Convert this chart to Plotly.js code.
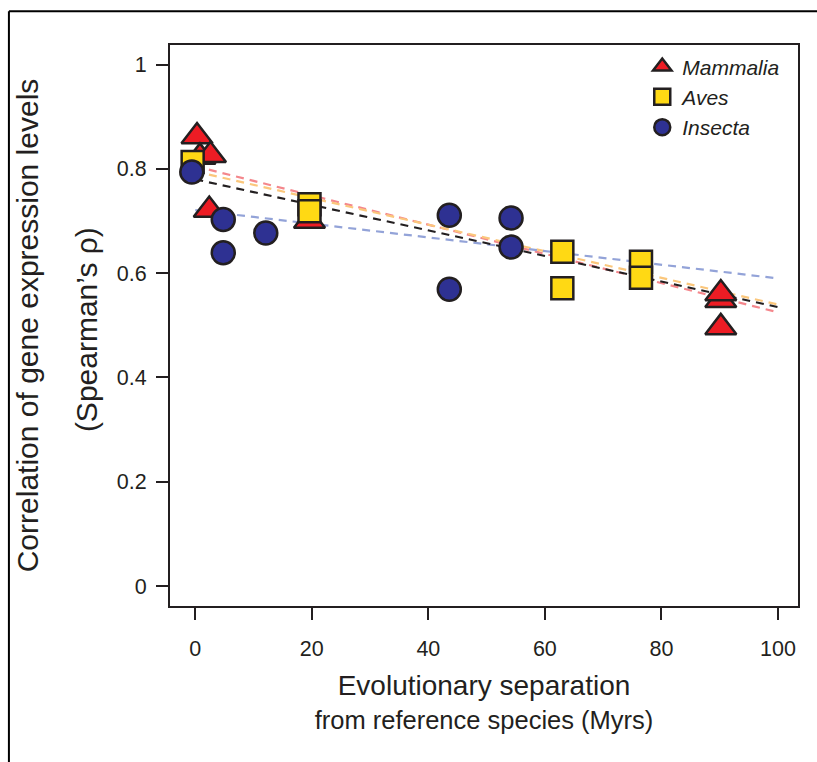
<!DOCTYPE html>
<html>
<head>
<meta charset="utf-8">
<script src="https://cdn.plot.ly/plotly-3.0.1.min.js"></script>
<style>
  html, body { margin: 0; padding: 0; background: #ffffff; }
  #chart { width: 817px; height: 762px; }
</style>
</head>
<body>
<div id="chart"></div>
<script>
// ---- Data ----
var seriesNames = ["Mammalia", "Aves", "Insecta"];

var mammaliaX = [0.3, 0.8, 2.6, 2.4, 19.6, 90.2, 90.2, 90.2];
var mammaliaY = [0.862, 0.823, 0.826, 0.721, 0.700, 0.548, 0.561, 0.496];

var avesX = [-0.45, 19.6, 19.6, 63.0, 63.0, 76.5, 76.5];
var avesY = [0.813, 0.732, 0.719, 0.641, 0.571, 0.622, 0.591];

var insectaX = [-0.6, 4.8, 4.8, 12.1, 43.6, 43.6, 54.2, 54.2];
var insectaY = [0.794, 0.703, 0.639, 0.677, 0.711, 0.569, 0.706, 0.650];

// Regression (trend) lines, read at both ends
var fitX = [0, 100];
var fitMammaliaY = [0.805, 0.525];
var fitAvesY = [0.795, 0.540];
var fitInsectaY = [0.721, 0.590];
var fitAllY = [0.780, 0.535];

var xTicks = [0, 20, 40, 60, 80, 100];
var yTicks = [0, 0.2, 0.4, 0.6, 0.8, 1];
var yTickText = ["0", "0.2", "0.4", "0.6", "0.8", "1"];

var xTitleLine1 = "Evolutionary separation";
var xTitleLine2 = "from reference species (Myrs)";
var yTitleLine1 = "Correlation of gene expression levels";
var yTitleLine2 = "(Spearman\u2019s \u03c1)";

// ---- Styling ----
var outline = "#231F20";
var font = "Liberation Sans, Arial, Helvetica, sans-serif";

function fitTrace(y, color) {
  return {
    x: fitX, y: y, type: "scatter", mode: "lines",
    line: { color: color, width: 2.2, dash: "8px,6px" },
    showlegend: false, hoverinfo: "skip"
  };
}

function ptTrace(name, x, y, symbol, color, size) {
  return {
    x: x, y: y, type: "scatter", mode: "markers", name: name,
    marker: { symbol: symbol, size: size, color: color,
              line: { color: outline, width: 2.5 } }
  };
}

var traces = [
  fitTrace(fitMammaliaY, "#F4878C"),
  fitTrace(fitAvesY, "#FBC77C"),
  fitTrace(fitInsectaY, "#93A3D8"),
  fitTrace(fitAllY, "#231F20"),
  ptTrace(seriesNames[0], mammaliaX, mammaliaY, "triangle-up", "#ED1C24", 27),
  ptTrace(seriesNames[1], avesX, avesY, "square", "#FFD914", 22),
  ptTrace(seriesNames[2], insectaX, insectaY, "circle", "#2E3192", 23)
];

var layout = {
  width: 817, height: 762,
  margin: { l: 170, r: 19.3, t: 44.7, b: 156, pad: 0 },
  paper_bgcolor: "#ffffff", plot_bgcolor: "#ffffff",
  font: { family: font, color: outline, size: 21 },
  xaxis: {
    range: [-4.34, 103.45], tickvals: xTicks, ticktext: xTicks.map(String),
    showgrid: false, zeroline: false,
    showline: true, mirror: true, linecolor: outline, linewidth: 2,
    ticks: "outside", ticklen: 12, tickwidth: 2, tickcolor: outline,
    ticklabelstandoff: 10,
    tickfont: { family: font, size: 21.5, color: outline },
    title: { text: '<span style="font-size:28px">' + xTitleLine1 + '</span><br>' +
                   '<span style="font-size:25.5px">' + xTitleLine2 + '</span>',
             font: { family: font, size: 26, color: outline }, standoff: 17 }
  },
  yaxis: {
    range: [-0.0383, 1.0376], tickvals: yTicks, ticktext: yTickText,
    showgrid: false, zeroline: false,
    showline: true, mirror: true, linecolor: outline, linewidth: 2,
    ticks: "outside", ticklen: 12, tickwidth: 2, tickcolor: outline,
    ticklabelstandoff: 5,
    tickfont: { family: font, size: 21.5, color: outline },
    title: { text: yTitleLine1,
             font: { family: font, size: 30, color: outline }, standoff: 69 }
  },
  annotations: [
    { text: yTitleLine2, xref: "paper", yref: "paper",
      x: -0.1338, y: 0.4935, xanchor: "center", yanchor: "middle",
      textangle: -90, showarrow: false,
      font: { family: font, size: 30, color: outline } }
  ],
  showlegend: true,
  legend: {
    x: 0.752, y: 0.9975, xanchor: "left", yanchor: "top",
    bgcolor: "rgba(0,0,0,0)", borderwidth: 0,
    font: { family: font, size: 21, color: outline, style: "italic" },
    itemsizing: "trace", tracegroupgap: 0
  },
  shapes: [
    { type: "line", xref: "paper", yref: "paper",
      x0: -0.2565, x1: -0.2565, y0: -0.30, y1: 1.0603,
      line: { color: "#000000", width: 2 } },
    { type: "line", xref: "paper", yref: "paper",
      x0: -0.2565, x1: 1.05, y0: 1.0603, y1: 1.0603,
      line: { color: "#000000", width: 2 } }
  ]
};

Plotly.newPlot("chart", traces, layout, { displayModeBar: false, staticPlot: true });
</script>
</body>
</html>
